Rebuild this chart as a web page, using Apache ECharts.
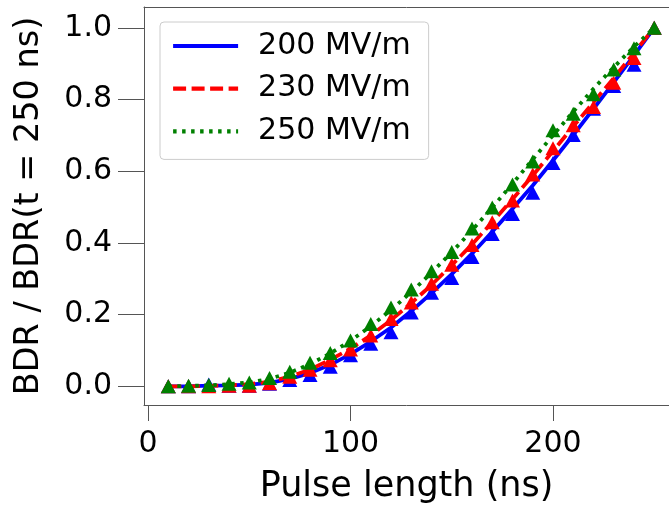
<!DOCTYPE html>
<html>
<head>
<meta charset="utf-8">
<script src="https://cdn.jsdelivr.net/npm/echarts@6/dist/echarts.min.js"></script>
<style>
html,body{margin:0;padding:0;background:#fff;overflow:hidden;}
#chart{width:669px;height:509px;}
</style>
</head>
<body>
<div id="chart"></div>
<script>
// ---- data ----
var pulseLengths = [10,20,30,40,50,60,70,80,90,100,110,120,130,140,150,160,170,180,190,200,210,220,230,240,250];

var seriesNames = ['200 MV/m', '230 MV/m', '250 MV/m'];

// measured points (triangles)
var pts200 = [0,0,0.005,0.002,0.002,0.007,0.018,0.032,0.055,0.087,0.119,0.151,0.206,0.261,0.302,0.361,0.425,0.481,0.540,0.623,0.701,0.774,0.838,0.897,1.0];
var pts230 = [0,0,0,0.002,0.002,0.009,0.027,0.046,0.073,0.103,0.142,0.188,0.234,0.286,0.339,0.394,0.458,0.518,0.591,0.664,0.728,0.779,0.847,0.916,1.0];
var pts250 = [0,0.002,0.004,0.007,0.011,0.023,0.041,0.066,0.093,0.128,0.174,0.220,0.270,0.321,0.375,0.440,0.499,0.563,0.627,0.714,0.760,0.815,0.884,0.943,1.0];

// curves drawn through the points
var line200 = [0,0,0.002,0.003,0.005,0.010,0.021,0.037,0.060,0.090,0.125,0.164,0.210,0.260,0.313,0.370,0.431,0.495,0.560,0.630,0.701,0.774,0.848,0.923,1.0];
var line230 = [0,0,0.001,0.003,0.006,0.013,0.027,0.047,0.074,0.105,0.142,0.185,0.232,0.283,0.338,0.396,0.458,0.522,0.588,0.656,0.725,0.792,0.860,0.930,1.0];
var line250 = [0,0.001,0.003,0.006,0.011,0.021,0.038,0.062,0.092,0.127,0.168,0.213,0.263,0.317,0.374,0.435,0.499,0.565,0.633,0.700,0.766,0.830,0.890,0.947,1.0];

var yTicks = [0, 0.2, 0.4, 0.6, 0.8, 1.0];
var xTicks = [0, 100, 200];

var colors = ['#0000ff', '#ff0000', '#008000'];

function pairs(ys) {
  return pulseLengths.map(function (x, i) { return [x, ys[i]]; });
}

var FONT = 'DejaVu Sans';
var AXIS_COLOR = '#555555';
var lineSets = [line200, line230, line250];
var ptSets = [pts200, pts230, pts250];
var dashes = ['solid', [13, 5.5], [3.5, 5.5]];

var series = [];
for (var k = 0; k < 3; k++) {
  series.push({
    name: seriesNames[k],
    type: 'line',
    data: pairs(lineSets[k]),
    symbol: 'none',
    smooth: false,
    lineStyle: { color: colors[k], width: 3.8, type: dashes[k], cap: 'butt' },
    itemStyle: { color: colors[k] },
    z: 2 + k * 2,
    animation: false
  });
  series.push({
    name: seriesNames[k] + ' pts',
    type: 'scatter',
    data: pairs(ptSets[k]),
    symbol: 'triangle',
    symbolSize: [15, 14],
    itemStyle: { color: colors[k], opacity: 1 },
    z: 3 + k * 2,
    animation: false
  });
}

var chart = echarts.init(document.getElementById('chart'), null, { renderer: 'canvas' });
chart.setOption({
  animation: false,
  backgroundColor: '#ffffff',
  textStyle: { fontFamily: FONT },
  grid: {
    left: 144, top: 7, width: 525, height: 404,
    show: false, containLabel: false
  },
  legend: {
    data: seriesNames,
    orient: 'vertical',
    left: 160, top: 22,
    padding: [9, 18, 13, 11],
    itemWidth: 65, itemHeight: 30, itemGap: 12.7,
    backgroundColor: 'rgba(255,255,255,0.8)',
    borderColor: '#cccccc', borderWidth: 1, borderRadius: 4,
    textStyle: { fontFamily: FONT, fontSize: 30, color: '#000', padding: [0, 0, 0, 15], lineHeight: 30 },
    itemStyle: { opacity: 0 },
    lineStyle: { width: 4.2 }
  },
  xAxis: [{
    type: 'value',
    min: -2, max: 257.3,
    position: 'bottom',
    name: 'Pulse length (ns)',
    nameLocation: 'middle',
    nameGap: 64,
    nameTextStyle: { fontFamily: FONT, fontSize: 35, color: '#000' },
    axisLine: { show: true, onZero: false, lineStyle: { color: AXIS_COLOR, width: 1 } },
    splitLine: { show: false },
    axisTick: { show: true, inside: false, length: 16, customValues: xTicks, lineStyle: { color: AXIS_COLOR, width: 1 } },
    axisLabel: { show: true, customValues: xTicks, margin: 24, fontFamily: FONT, fontSize: 30, color: '#000',
      formatter: function (v) { return String(v); } }
  }, {
    type: 'value',
    min: -2, max: 257.3,
    position: 'top',
    axisLine: { show: true, onZero: false, lineStyle: { color: AXIS_COLOR, width: 1 } },
    axisTick: { show: false },
    axisLabel: { show: false },
    splitLine: { show: false }
  }],
  yAxis: {
    type: 'value',
    min: -0.052, max: 1.058,
    name: 'BDR / BDR(t = 250 ns)',
    nameLocation: 'middle',
    nameGap: 98,
    nameRotate: 90,
    nameTextStyle: { fontFamily: FONT, fontSize: 33.5, color: '#000' },
    axisLine: { show: true, onZero: false, lineStyle: { color: AXIS_COLOR, width: 1 } },
    splitLine: { show: false },
    axisTick: { show: true, inside: false, length: 26, customValues: yTicks, lineStyle: { color: AXIS_COLOR, width: 1 } },
    axisLabel: { show: true, customValues: yTicks, margin: 32, fontFamily: FONT, fontSize: 30, color: '#000',
      formatter: function (v) { return v.toFixed(1); } }
  },
  series: series
});
</script>
</body>
</html>
